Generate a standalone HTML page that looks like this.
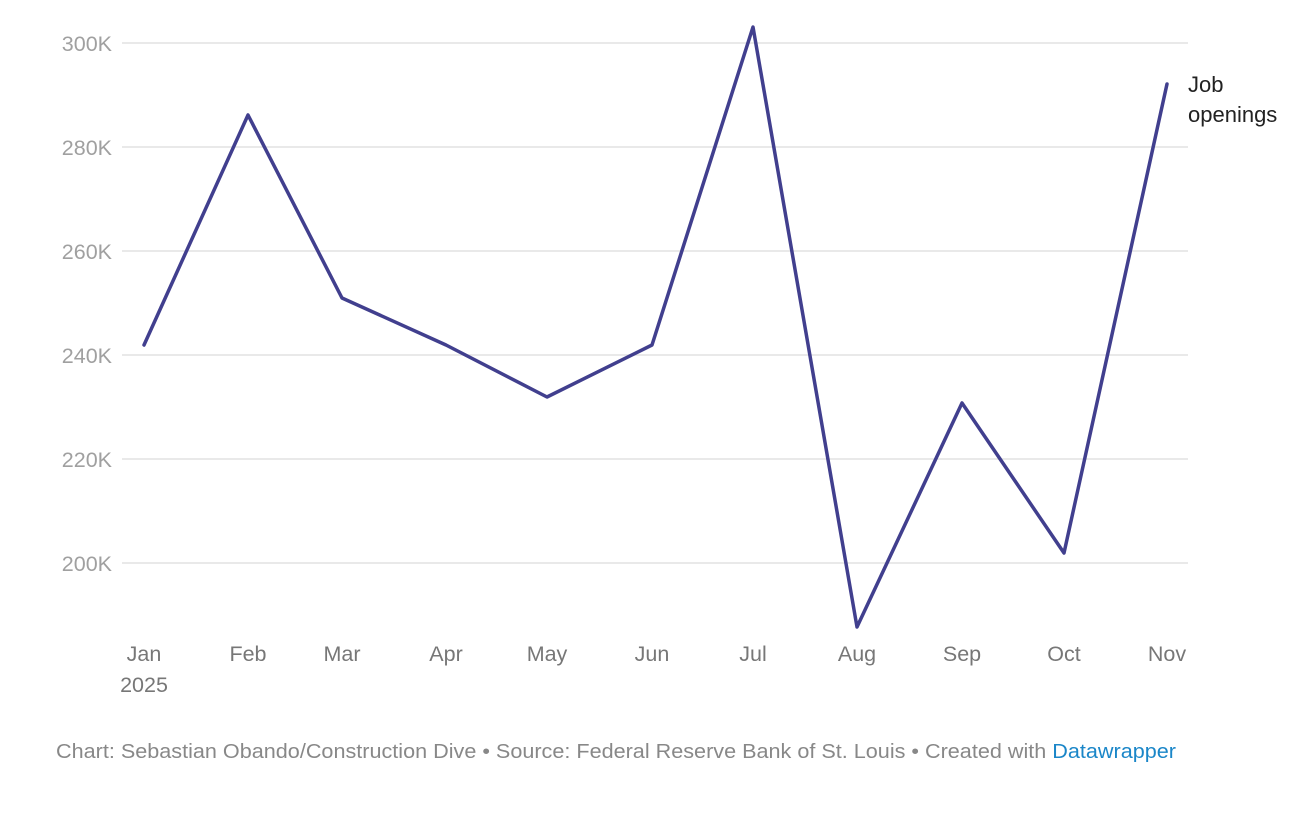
<!DOCTYPE html>
<html><head><meta charset="utf-8"><style>
body{margin:0;background:#fff;width:1294px;height:818px;overflow:hidden;font-family:"Liberation Sans",sans-serif}
</style></head><body>
<svg width="1294" height="818" xmlns="http://www.w3.org/2000/svg" style="position:absolute;left:0;top:0">
<g stroke="#e2e2e2" stroke-width="1.5">
<line x1="122" x2="1188" y1="43" y2="43"/>
<line x1="122" x2="1188" y1="147" y2="147"/>
<line x1="122" x2="1188" y1="251" y2="251"/>
<line x1="122" x2="1188" y1="355" y2="355"/>
<line x1="122" x2="1188" y1="459" y2="459"/>
<line x1="122" x2="1188" y1="563" y2="563"/>
</g>
<g fill="#a0a0a0" font-size="21.5" text-anchor="end">
<text x="112" y="51">300K</text>
<text x="112" y="155">280K</text>
<text x="112" y="259">260K</text>
<text x="112" y="363">240K</text>
<text x="112" y="467">220K</text>
<text x="112" y="571">200K</text>
</g>
<g fill="#777" font-size="21.5" text-anchor="middle">
<text x="144" y="661">Jan</text><text x="144" y="692">2025</text>
<text x="248" y="661">Feb</text>
<text x="342" y="661">Mar</text>
<text x="446" y="661">Apr</text>
<text x="547" y="661">May</text>
<text x="652" y="661">Jun</text>
<text x="753" y="661">Jul</text>
<text x="857" y="661">Aug</text>
<text x="962" y="661">Sep</text>
<text x="1064" y="661">Oct</text>
<text x="1167" y="661">Nov</text>
</g>
<polyline fill="none" stroke="#413f8e" stroke-width="3.5" stroke-linejoin="round" stroke-linecap="round"
points="144,345 248,115 342,298 446,345 547,397 652,345 753,27 857,627 962,403 1064,553 1167,84"/>
<g fill="#222" font-size="22">
<text x="1188" y="92">Job</text>
<text x="1188" y="122">openings</text>
</g>
<text x="56" y="758" font-size="20" fill="#888" textLength="1120" lengthAdjust="spacingAndGlyphs">Chart: Sebastian Obando/Construction Dive • Source: Federal Reserve Bank of St. Louis • Created with <tspan fill="#1a86c8">Datawrapper</tspan></text>
</svg>
</body></html>
